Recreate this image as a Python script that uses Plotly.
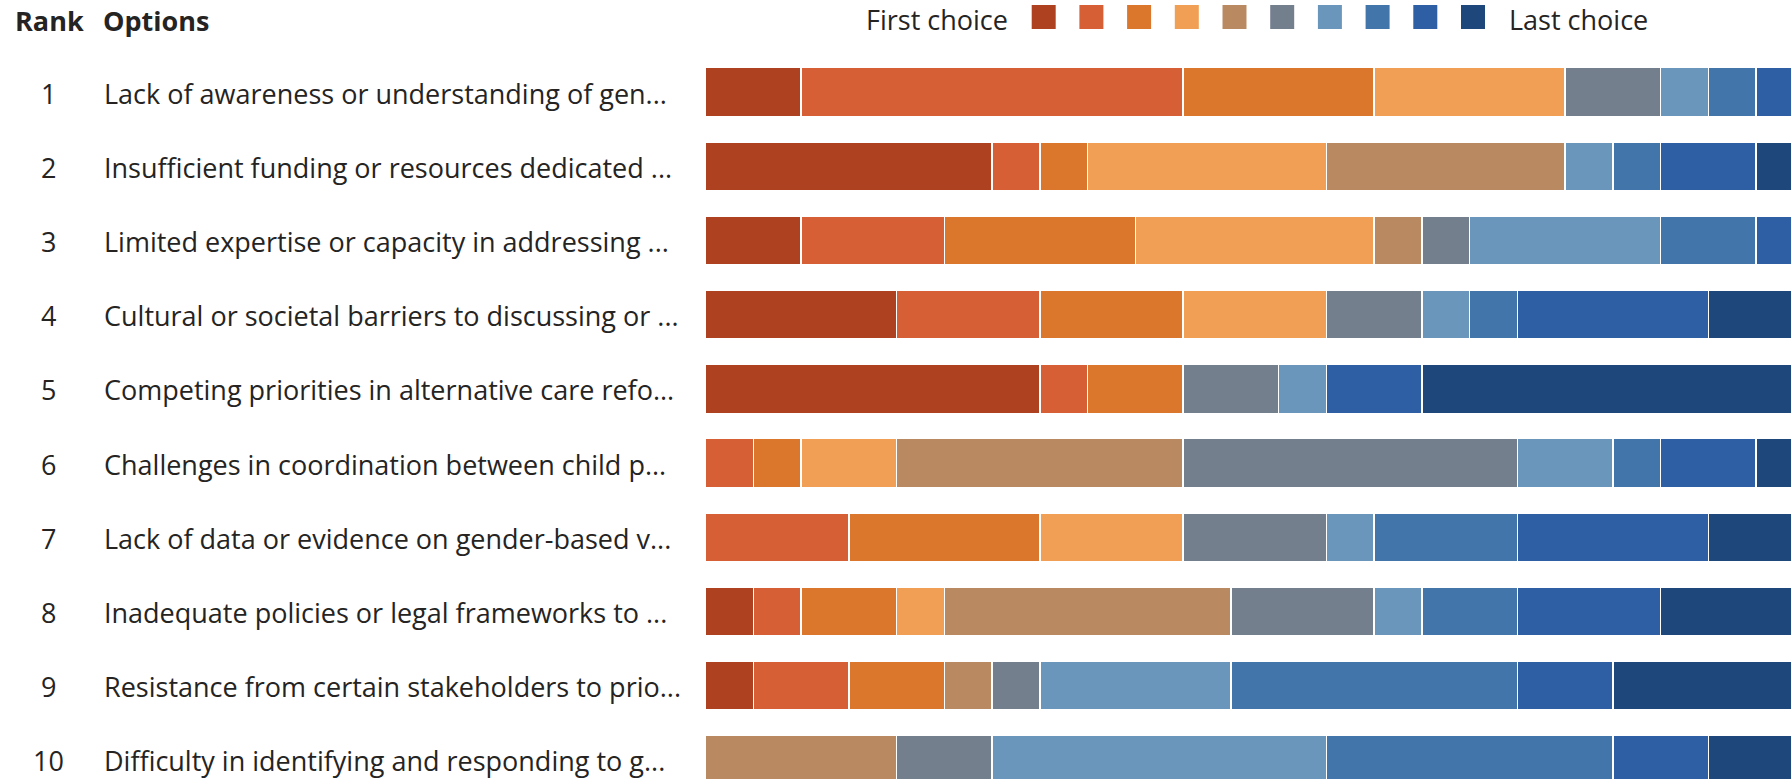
import plotly.graph_objects as go

# ---- data ----
ranks = ["1", "2", "3", "4", "5", "6", "7", "8", "9", "10"]
options = [
    "Lack of awareness or understanding of gen...",
    "Insufficient funding or resources dedicated ...",
    "Limited expertise or capacity in addressing ...",
    "Cultural or societal barriers to discussing or ...",
    "Competing priorities in alternative care refo...",
    "Challenges in coordination between child p...",
    "Lack of data or evidence on gender-based v...",
    "Inadequate policies or legal frameworks to ...",
    "Resistance from certain stakeholders to prio...",
    "Difficulty in identifying and responding to g...",
]
choice_1 = [2, 6, 2, 4, 7, 0, 0, 1, 1, 0]
choice_2 = [8, 1, 3, 3, 1, 1, 3, 1, 2, 0]
choice_3 = [4, 1, 4, 3, 2, 1, 4, 2, 2, 0]
choice_4 = [4, 5, 5, 3, 0, 2, 3, 1, 0, 0]
choice_5 = [0, 5, 1, 0, 0, 6, 0, 6, 1, 4]
choice_6 = [2, 0, 1, 2, 2, 7, 3, 3, 1, 2]
choice_7 = [1, 1, 4, 1, 1, 2, 1, 1, 4, 7]
choice_8 = [1, 1, 2, 1, 0, 1, 3, 2, 6, 6]
choice_9 = [1, 2, 1, 4, 2, 2, 4, 3, 2, 2]
choice_10 = [0, 1, 0, 2, 8, 1, 2, 3, 4, 2]
choices = [choice_1, choice_2, choice_3, choice_4, choice_5,
           choice_6, choice_7, choice_8, choice_9, choice_10]
colors = ["#AE4220", "#D65F35", "#DB772D", "#F09F54", "#B98A62",
          "#747F8E", "#6A96BC", "#4276AA", "#2E5EA3", "#1E477B"]
legend_first = "First choice"
legend_last = "Last choice"

W, H = 1791, 779
TOP = 55
FONT = "Segoe UI, Open Sans, sans-serif"
TXT = "#252423"
FS = 27


def py(p):
    # pixel row from top of figure -> paper y (paper spans the plot area)
    return (H - p) / (H - TOP)


fig = go.Figure()
rows = list(range(len(options)))
for i, vals in enumerate(choices):
    fig.add_trace(go.Bar(
        x=vals, y=rows, orientation="h", width=0.66,
        marker=dict(color=colors[i], line=dict(color="white", width=1.5)),
        showlegend=False, hoverinfo="x",
    ))

x0_px = 705.5
fig.update_layout(
    width=W, height=H, barmode="stack",
    margin=dict(l=0, r=0, t=TOP, b=0),
    paper_bgcolor="white", plot_bgcolor="white",
    font=dict(family=FONT, color=TXT, size=FS),
    xaxis=dict(domain=[x0_px / W, 1], range=[0, 22.73], visible=False, fixedrange=True),
    yaxis=dict(range=[9.257, -0.5], visible=False, fixedrange=True),
)

ann = []
for i, (r, o) in enumerate(zip(ranks, options)):
    ann.append(dict(x=48 / W, y=i, xref="paper", yref="y", text=r, showarrow=False,
                    xanchor="center", yanchor="middle", yshift=-1, font=dict(size=FS, color=TXT)))
    ann.append(dict(x=102 / W, y=i, xref="paper", yref="y", text=o, showarrow=False,
                    xanchor="left", yanchor="middle", yshift=-1, font=dict(size=FS, color=TXT)))
hy = py(21)
ann.append(dict(x=13 / W, y=hy, xref="paper", yref="paper", text="<b>Rank</b>", showarrow=False,
                xanchor="left", yanchor="middle", font=dict(size=FS, color=TXT)))
ann.append(dict(x=101 / W, y=hy, xref="paper", yref="paper", text="<b>Options</b>", showarrow=False,
                xanchor="left", yanchor="middle", font=dict(size=FS, color=TXT)))
ly = py(19)
ann.append(dict(x=1010 / W, y=ly, xref="paper", yref="paper", text=legend_first, showarrow=False,
                xanchor="right", yanchor="middle", font=dict(size=FS, color=TXT)))
ann.append(dict(x=1507 / W, y=ly, xref="paper", yref="paper", text=legend_last, showarrow=False,
                xanchor="left", yanchor="middle", font=dict(size=FS, color=TXT)))

shapes = []
for i, c in enumerate(colors):
    left = 1031.7 + 47.7 * i
    shapes.append(dict(type="rect", xref="paper", yref="paper",
                       x0=left / W, x1=(left + 24) / W, y0=py(29), y1=py(5),
                       fillcolor=c, line=dict(width=0)))
fig.update_layout(annotations=ann, shapes=shapes)

fig.write_html("out.html", config={"displayModeBar": False},
               post_script="document.body.style.margin='0';document.body.style.overflow='hidden';")
